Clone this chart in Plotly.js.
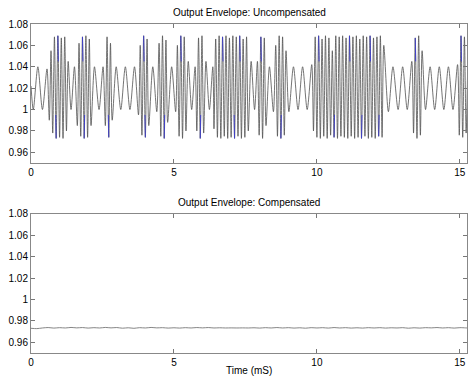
<!DOCTYPE html>
<html>
<head>
<meta charset="utf-8">
<script src="https://cdn.plot.ly/plotly-2.35.2.min.js"></script>
<style>html,body{margin:0;padding:0;background:#fff;}#chart{width:469px;height:377px;}</style>
</head>
<body>
<div id="chart"></div>
<script>
// ---- Data ----
// Uncompensated envelope: times (ms) of successive extrema and their values
var tUncomp = [0,0.08,0.24,0.40,0.56,
 0.64,0.70,0.76,0.82,0.88,0.94,1.00,1.06,1.12,1.18,1.24,
 1.30,1.40,1.52,
 1.62,1.68,1.74,1.80,1.86,1.92,1.98,2.04,2.10,
 2.22,2.38,2.52,
 2.60,2.66,2.72,2.78,2.84,
 2.98,3.14,3.30,3.46,3.62,3.76,
 3.82,3.88,3.94,4.00,4.06,4.12,
 4.26,4.40,
 4.48,4.54,4.60,4.66,4.72,4.78,
 4.92,5.06,
 5.12,5.18,5.24,5.30,5.36,5.42,
 5.50,5.62,5.74,
 5.80,5.86,5.92,5.98,6.04,
 6.12,6.24,6.36,
 6.40,6.46,6.52,6.58,6.64,6.70,6.76,6.82,6.88,6.94,7.00,7.06,7.12,7.18,7.24,7.30,7.36,7.42,7.48,7.54,7.60,
 7.70,7.82,7.92,
 7.98,8.04,8.10,8.16,8.22,
 8.34,8.48,
 8.56,8.62,8.68,8.74,8.80,8.86,8.92,
 9.02,9.18,9.34,9.50,9.66,9.82,
 9.88,9.94,10.00,10.06,10.12,10.18,10.24,10.30,10.36,10.42,10.48,10.54,10.60,10.66,10.72,10.78,10.84,10.90,10.96,11.02,11.08,11.14,11.20,11.26,11.32,11.38,11.44,11.50,11.56,11.62,11.68,11.74,11.80,11.86,11.92,11.98,12.04,12.10,12.16,12.22,12.28,12.34,
 12.50,12.66,12.84,13.00,13.16,13.32,
 13.38,13.44,13.50,13.56,13.62,13.68,
 13.80,13.96,14.12,14.28,14.44,14.60,14.76,14.92,
 14.98,15.04,15.10,15.16,15.22,15.28];
var vUncomp = [1.022,1.000,1.040,1.000,1.038,
 0.990,1.055,0.978,1.068,0.973,1.069,0.974,1.067,0.973,1.068,0.980,
 1.045,1.000,1.040,
 0.985,1.062,0.975,1.068,0.973,1.069,0.974,1.066,0.985,
 1.040,1.000,1.040,
 0.985,1.068,0.974,1.062,0.990,
 1.040,1.000,1.040,1.000,1.040,0.995,
 1.060,0.976,1.069,0.974,1.066,0.985,
 1.040,0.998,
 1.062,0.975,1.069,0.973,1.065,0.988,
 1.040,0.998,
 1.060,0.975,1.069,0.973,1.068,0.980,
 1.045,1.000,1.040,
 0.980,1.067,0.973,1.069,0.978,
 1.045,1.000,1.040,
 0.982,1.066,0.974,1.069,0.973,1.068,0.975,1.069,0.973,1.067,0.974,1.069,0.973,1.068,0.975,1.069,0.973,1.066,0.974,1.068,0.980,
 1.045,1.000,1.045,
 0.976,1.068,0.973,1.067,0.985,
 1.040,0.998,
 1.060,0.975,1.069,0.973,1.068,0.976,1.055,
 0.998,1.040,1.000,1.040,1.000,1.042,
 0.980,1.068,0.974,1.069,0.973,1.066,0.975,1.069,0.973,1.067,0.976,1.055,0.974,1.069,0.973,1.068,0.975,1.069,0.974,1.067,0.973,1.069,0.975,1.068,0.973,1.069,0.974,1.066,0.973,1.069,0.975,1.068,0.973,1.069,0.974,1.067,0.973,1.068,0.975,1.069,0.974,1.060,
 0.998,1.040,1.000,1.040,1.000,1.045,
 0.978,1.067,0.973,1.069,0.976,1.055,
 1.000,1.040,1.000,1.040,1.000,1.040,1.000,1.042,
 0.976,1.069,0.974,1.068,0.978,1.050];

// Blue strokes visible beside the black ones at some burst extrema (null = gap)
var tBlue = [0.88,0.865,null,0.94,0.955,null,1.80,1.815,null,1.86,1.875,null,2.72,2.705,null,
 3.94,3.955,null,4.00,3.985,null,4.66,4.675,null,5.24,5.255,null,5.92,5.935,null,
 6.70,6.715,null,7.12,7.105,null,7.30,7.315,null,8.04,8.055,null,8.74,8.755,null,
 10.06,10.075,null,10.60,10.615,null,11.14,11.155,null,11.56,11.575,null,11.86,11.875,null,
 12.16,12.175,null,13.44,13.455,null,15.04,15.055];
var vBlue = [0.973,0.995,null,1.069,1.045,null,1.068,1.045,null,0.973,0.995,null,0.974,0.995,null,
 1.069,1.045,null,0.974,0.995,null,0.973,0.995,null,1.069,1.045,null,0.973,0.995,null,
 1.068,1.045,null,0.973,0.995,null,1.069,1.045,null,1.068,1.045,null,0.973,0.995,null,
 1.069,1.045,null,0.974,0.995,null,1.069,1.045,null,0.973,0.995,null,1.069,1.045,null,
 0.975,0.995,null,1.067,1.045,null,1.069,1.045];

// Compensated envelope: nearly flat with a small ripple
var tComp = [0,0.2,0.4,0.6,0.8,1.0,1.2,1.4,1.6,1.8,2.0,2.2,2.4,2.6,2.8,3.0,3.2,3.4,3.6,3.8,
 4.0,4.2,4.4,4.6,4.8,5.0,5.2,5.4,5.6,5.8,6.0,6.2,6.4,6.6,6.8,7.0,7.2,7.4,7.6,7.8,
 8.0,8.2,8.4,8.6,8.8,9.0,9.2,9.4,9.6,9.8,10.0,10.2,10.4,10.6,10.8,11.0,11.2,11.4,11.6,11.8,
 12.0,12.2,12.4,12.6,12.8,13.0,13.2,13.4,13.6,13.8,14.0,14.2,14.4,14.6,14.8,15.0,15.2,15.25];
var vComp = [0.9731,0.9728,0.9734,0.9738,0.9733,0.9737,0.9734,0.9739,0.9735,0.9738,0.9733,0.9737,0.9734,0.9739,0.9735,0.9738,0.9732,0.9736,0.9731,0.9737,
 0.9734,0.9739,0.9735,0.9737,0.9733,0.9736,0.9733,0.9737,0.9734,0.9738,0.9735,0.9738,0.9734,0.9736,0.9734,0.9735,0.9734,0.9735,0.9734,0.9736,
 0.9733,0.9737,0.9734,0.9738,0.9734,0.9737,0.9733,0.9736,0.9732,0.9737,0.9734,0.9737,0.9733,0.9738,0.9734,0.9737,0.9733,0.9736,0.9733,0.9737,
 0.9734,0.9737,0.9733,0.9736,0.9734,0.9737,0.9732,0.9736,0.9733,0.9737,0.9735,0.9738,0.9734,0.9737,0.9733,0.9737,0.9735,0.9734];

var xTickVals = [0,5,10,15];
var yTickVals = [0.96,0.98,1.00,1.02,1.04,1.06,1.08];
var yTickText = ['0.96','0.98','1','1.02','1.04','1.06','1.08'];
var titles = ['Output Envelope: Uncompensated','Output Envelope: Compensated'];
var xLabel = 'Time (mS)';

// ---- Chart ----
var font = {family:'Liberation Sans, Arial, sans-serif', size:10, color:'#000'};
function xax(anchor){
  return {range:[0,15.25], tickvals:xTickVals, ticktext:xTickVals.map(String), ticks:'inside', ticklen:4,
    tickcolor:'#777', linecolor:'#888', linewidth:1, mirror:'ticks', showgrid:false, zeroline:false,
    anchor:anchor, tickfont:font, fixedrange:true};
}
function yax(domain, anchor){
  return {range:[0.95,1.08], domain:domain, tickvals:yTickVals, ticktext:yTickText, ticks:'inside', ticklen:4,
    tickcolor:'#777', linecolor:'#888', linewidth:1, mirror:'ticks', showgrid:false, zeroline:false,
    anchor:anchor, tickfont:font, fixedrange:true};
}
var traces = [
  {x:tUncomp, y:vUncomp, type:'scatter', mode:'lines', xaxis:'x', yaxis:'y',
   line:{color:'#505050', width:0.8, shape:'spline', smoothing:0.8}, hoverinfo:'skip'},
  {x:tBlue, y:vBlue, type:'scatter', mode:'lines', xaxis:'x', yaxis:'y', connectgaps:false,
   line:{color:'#3a3ad0', width:0.9}, hoverinfo:'skip'},
  {x:tComp, y:vComp, type:'scatter', mode:'lines', xaxis:'x2', yaxis:'y2',
   line:{color:'#777', width:0.9, shape:'spline', smoothing:0.8}, hoverinfo:'skip'}
];
var layout = {
  width:469, height:377, margin:{l:31,r:2,t:24,b:24},
  paper_bgcolor:'#fff', plot_bgcolor:'#fff', showlegend:false, font:font,
  xaxis:xax('y'), yaxis:yax([0.5775,1],'x'),
  xaxis2:xax('y2'), yaxis2:yax([0,0.4225],'x2'),
  annotations:[
    {text:titles[0], xref:'paper', yref:'paper', x:0.5, y:1.036, showarrow:false, font:font, xanchor:'center', yanchor:'middle'},
    {text:titles[1], xref:'paper', yref:'paper', x:0.5, y:0.456, showarrow:false, font:font, xanchor:'center', yanchor:'middle'},
    {text:xLabel, xref:'paper', yref:'paper', x:0.5, y:-0.052, showarrow:false, font:font, xanchor:'center', yanchor:'middle'}
  ]
};
Plotly.newPlot('chart', traces, layout, {staticPlot:true, displayModeBar:false});
</script>
</body>
</html>
